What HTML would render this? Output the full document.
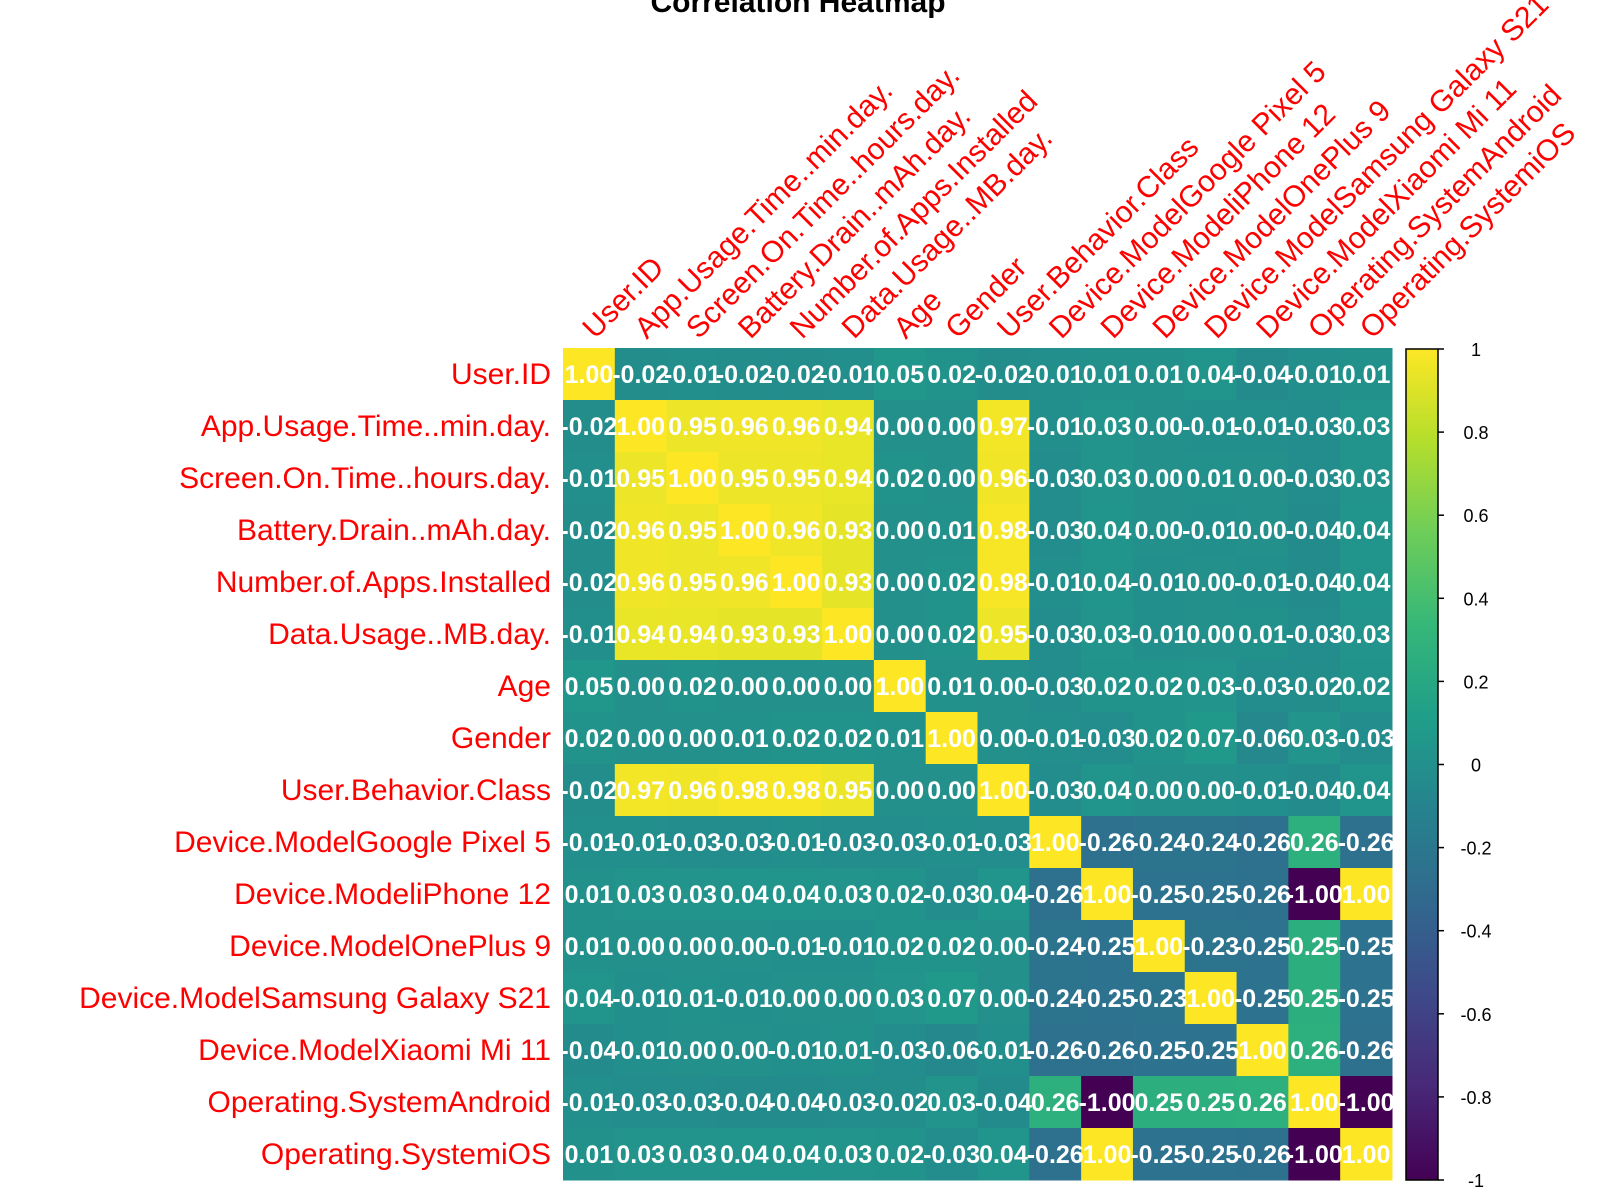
<!DOCTYPE html>
<html><head><meta charset="utf-8"><style>
body{margin:0;background:#fff;}
svg{display:block;font-family:"Liberation Sans",Arial,sans-serif;}
</style></head><body>
<svg id="chart" width="1600" height="1200" viewBox="0 0 1600 1200" xmlns="http://www.w3.org/2000/svg">
<text x="798" y="12" text-anchor="middle" font-size="30" font-weight="bold" fill="#000">Correlation Heatmap</text>
<g id="cells"></g>
<g id="rowlabels"></g>
<g id="collabels"></g>
<g id="legend"></g>
</svg>
<script>
const variables = ["User.ID","App.Usage.Time..min.day.","Screen.On.Time..hours.day.","Battery.Drain..mAh.day.","Number.of.Apps.Installed","Data.Usage..MB.day.","Age","Gender","User.Behavior.Class","Device.ModelGoogle Pixel 5","Device.ModeliPhone 12","Device.ModelOnePlus 9","Device.ModelSamsung Galaxy S21","Device.ModelXiaomi Mi 11","Operating.SystemAndroid","Operating.SystemiOS"];
const correlations = [
[1.00,-0.02,-0.01,-0.02,-0.02,-0.01,0.05,0.02,-0.02,-0.01,0.01,0.01,0.04,-0.04,-0.01,0.01],
[-0.02,1.00,0.95,0.96,0.96,0.94,0.00,0.00,0.97,-0.01,0.03,0.00,-0.01,-0.01,-0.03,0.03],
[-0.01,0.95,1.00,0.95,0.95,0.94,0.02,0.00,0.96,-0.03,0.03,0.00,0.01,0.00,-0.03,0.03],
[-0.02,0.96,0.95,1.00,0.96,0.93,0.00,0.01,0.98,-0.03,0.04,0.00,-0.01,0.00,-0.04,0.04],
[-0.02,0.96,0.95,0.96,1.00,0.93,0.00,0.02,0.98,-0.01,0.04,-0.01,0.00,-0.01,-0.04,0.04],
[-0.01,0.94,0.94,0.93,0.93,1.00,0.00,0.02,0.95,-0.03,0.03,-0.01,0.00,0.01,-0.03,0.03],
[0.05,0.00,0.02,0.00,0.00,0.00,1.00,0.01,0.00,-0.03,0.02,0.02,0.03,-0.03,-0.02,0.02],
[0.02,0.00,0.00,0.01,0.02,0.02,0.01,1.00,0.00,-0.01,-0.03,0.02,0.07,-0.06,0.03,-0.03],
[-0.02,0.97,0.96,0.98,0.98,0.95,0.00,0.00,1.00,-0.03,0.04,0.00,0.00,-0.01,-0.04,0.04],
[-0.01,-0.01,-0.03,-0.03,-0.01,-0.03,-0.03,-0.01,-0.03,1.00,-0.26,-0.24,-0.24,-0.26,0.26,-0.26],
[0.01,0.03,0.03,0.04,0.04,0.03,0.02,-0.03,0.04,-0.26,1.00,-0.25,-0.25,-0.26,-1.00,1.00],
[0.01,0.00,0.00,0.00,-0.01,-0.01,0.02,0.02,0.00,-0.24,-0.25,1.00,-0.23,-0.25,0.25,-0.25],
[0.04,-0.01,0.01,-0.01,0.00,0.00,0.03,0.07,0.00,-0.24,-0.25,-0.23,1.00,-0.25,0.25,-0.25],
[-0.04,-0.01,0.00,0.00,-0.01,0.01,-0.03,-0.06,-0.01,-0.26,-0.26,-0.25,-0.25,1.00,0.26,-0.26],
[-0.01,-0.03,-0.03,-0.04,-0.04,-0.03,-0.02,0.03,-0.04,0.26,-1.00,0.25,0.25,0.26,1.00,-1.00],
[0.01,0.03,0.03,0.04,0.04,0.03,0.02,-0.03,0.04,-0.26,1.00,-0.25,-0.25,-0.26,-1.00,1.00]
];
const legendTicks = [1,0.8,0.6,0.4,0.2,0,-0.2,-0.4,-0.6,-0.8,-1];
const legendTickLabels = ["1","0.8","0.6","0.4","0.2","0","-0.2","-0.4","-0.6","-0.8","-1"];

const NS="http://www.w3.org/2000/svg";
const X0=563, Y0=348, GW=829, GH=832;
const n=variables.length, cw=GW/n, ch=GH/n;
const xPos=i=>X0+i*cw, yPos=i=>Y0+i*ch;
const stops=["#440154","#482878","#3E4989","#31688E","#26828E","#1F9E89","#35B779","#6DCD59","#B4DE2C","#FDE725"];
function hex(h){return [1,3,5].map(k=>parseInt(h.substr(k,2),16));}
function viridis(v){let t=(v+1)/2;t=Math.max(0,Math.min(1,t));const s=t*(stops.length-1);const i=Math.min(stops.length-2,Math.floor(s));const f=s-i;const a=hex(stops[i]),b=hex(stops[i+1]);return "rgb("+a.map((c,k)=>Math.round(c+(b[k]-c)*f)).join(",")+")";}
function mk(tag,attrs,parent){const e=document.createElementNS(NS,tag);for(const k in attrs)e.setAttribute(k,attrs[k]);parent.appendChild(e);return e;}
const cells=document.getElementById('cells');
correlations.forEach((row,r)=>row.forEach((v,c)=>{
  const rect=mk('rect',{x:xPos(c),y:yPos(r),width:cw+0.5,height:ch+0.5,fill:viridis(v)},cells);
  
  
}));
correlations.forEach((row,r)=>row.forEach((v,c)=>{
  const t=mk('text',{x:xPos(c)+cw/2,y:yPos(r)+ch/2+9,'text-anchor':'middle','font-size':25,'font-weight':'bold',fill:'#fff'},cells);
  
  
  t.textContent=v.toFixed(2);
}));
const rl=document.getElementById('rowlabels'), cl=document.getElementById('collabels');
variables.forEach((name,i)=>{
  const t=mk('text',{x:551,y:yPos(i)+ch/2+10,'text-anchor':'end','font-size':30,fill:'#f00'},rl);
  
  
  t.textContent=name;
  const x=xPos(i)+cw/2+6, y=340;
  const u=mk('text',{x:x,y:y,'font-size':30,fill:'#f00',transform:`rotate(-45 ${x} ${y})`},cl);
  
  
  u.textContent=name;
});
const lg=document.getElementById('legend');
const LX=1406, LW=32, LT=349, LB=1180;
const lY=v=>LT+(1-v)/2*(LB-LT);
const defs=mk('defs',{},lg);
const grad=mk('linearGradient',{id:'vg',x1:0,y1:1,x2:0,y2:0},defs);
stops.forEach((s,i)=>mk('stop',{offset:i/(stops.length-1),'stop-color':s},grad));
const bar=mk('rect',{x:LX,y:LT,width:LW,height:LB-LT,fill:'url(#vg)',stroke:'#000','stroke-width':1.5},lg);


legendTicks.forEach((v,i)=>{
  const ln=mk('line',{x1:LX+LW,x2:LX+LW+6,y1:lY(v),y2:lY(v),stroke:'#000','stroke-width':1.5},lg);
  
  
  const t=mk('text',{x:1476,y:lY(v)+7,'text-anchor':'middle','font-size':18,fill:'#000'},lg);
  
  
  t.textContent=legendTickLabels[i];
});
</script>
</body></html>
